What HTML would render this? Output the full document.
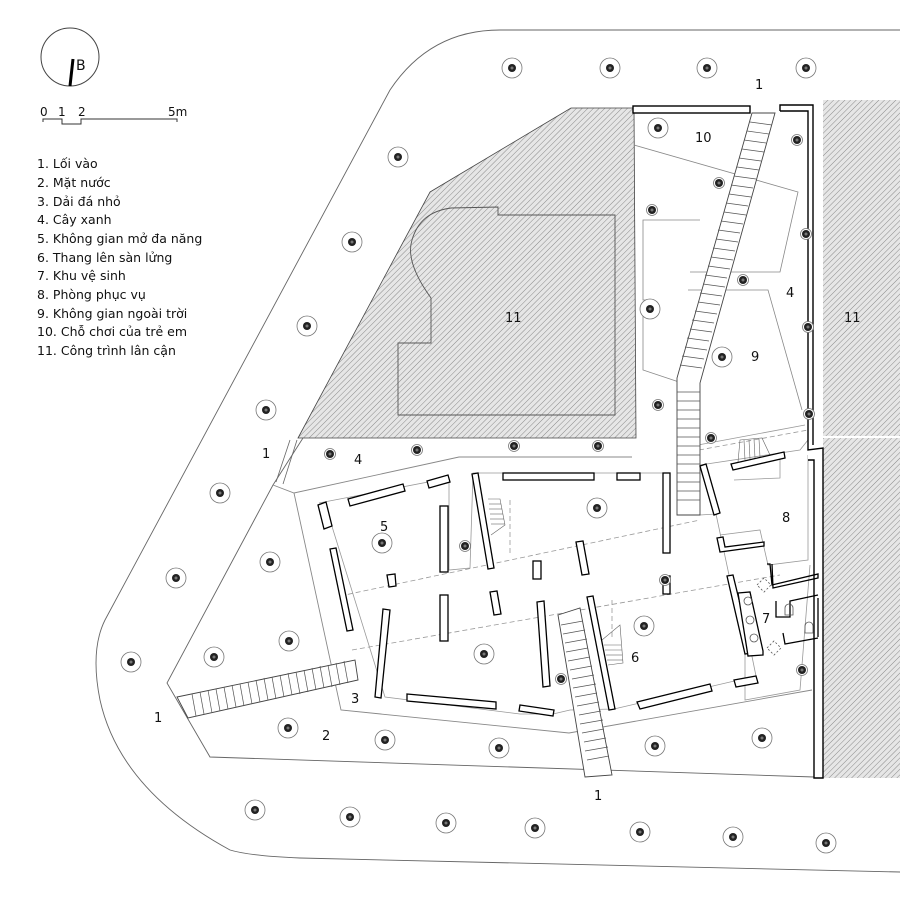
<!DOCTYPE html>
<html><head><meta charset="utf-8"><style>
html,body{margin:0;padding:0;background:#fff}
svg{display:block}
text{font-family:"DejaVu Sans","Liberation Sans",sans-serif;fill:#111}
</style></head><body>
<svg width="900" height="900" viewBox="0 0 900 900" xmlns="http://www.w3.org/2000/svg">
<defs>
<pattern id="h" width="4" height="4" patternUnits="userSpaceOnUse" patternTransform="rotate(45)">
<rect width="4" height="4" fill="#e6e6e6"/><line x1="0" y1="0" x2="0" y2="4" stroke="#8a8a8a" stroke-width="1"/>
</pattern>
<g id="t"><circle r="10" fill="#fff" stroke="#777" stroke-width="0.8"/><circle r="4" fill="#222"/><circle r="1.5" fill="#777"/></g>
<g id="d"><circle r="5.5" fill="#fff" stroke="#777" stroke-width="0.8"/><circle r="4" fill="#222"/><circle r="1.5" fill="#777"/></g>
</defs>

<circle cx="70" cy="57" r="29" fill="none" stroke="#444" stroke-width="1"/>
<line x1="73" y1="59" x2="70" y2="86" stroke="#000" stroke-width="3"/>
<text x="76" y="70" font-size="14">B</text>
<text x="40" y="116" font-size="12">0</text><text x="58" y="116" font-size="12">1</text><text x="78" y="116" font-size="12">2</text><text x="168" y="116" font-size="12">5m</text>
<polyline points="43,122 43,119 62,119 62,124 81,124 81,119 177,119 177,122" fill="none" stroke="#333" stroke-width="1"/>
<g font-size="12.5">
<text x="37" y="168">1. Lối vào</text>
<text x="37" y="187">2. Mặt nước</text>
<text x="37" y="206">3. Dải đá nhỏ</text>
<text x="37" y="224">4. Cây xanh</text>
<text x="37" y="243">5. Không gian mở đa năng</text>
<text x="37" y="262">6. Thang lên sàn lửng</text>
<text x="37" y="280">7. Khu vệ sinh</text>
<text x="37" y="299">8. Phòng phục vụ</text>
<text x="37" y="318">9. Không gian ngoài trời</text>
<text x="37" y="336">10. Chỗ chơi của trẻ em</text>
<text x="37" y="355">11. Công trình lân cận</text>
</g>

<path d="M900,30 L500,30 Q430,30 390,90 L105,620 Q90,650 100,700 Q120,790 230,850 Q250,856 300,858 L900,872" fill="none" stroke="#666" stroke-width="0.9"/>

<polygon points="430,192 571,108 634,108 636,438 298,438" fill="url(#h)" stroke="#444" stroke-width="0.8"/>
<path d="M451,208 L498,207 L498,215 L615,215 L615,415 L398,415 L398,343 L431,343 L431,298 Q405,262 412,240 Q420,212 451,208 Z" fill="none" stroke="#555" stroke-width="0.9"/>
<rect x="823" y="100" width="77" height="678" fill="url(#h)"/>
<line x1="823" y1="437" x2="900" y2="437" stroke="#fff" stroke-width="2"/>

<polyline points="303,438 273,485 167,683 210,757 814,777" fill="none" stroke="#666" stroke-width="0.9"/>
<line x1="290" y1="440" x2="276" y2="482" stroke="#666" stroke-width="0.8"/>
<line x1="297" y1="440" x2="283" y2="484" stroke="#666" stroke-width="0.8"/>
<polyline points="273,485 294,493 459,457 632,457" fill="none" stroke="#888" stroke-width="0.9"/>
<polyline points="294,493 341,710 569,733 812,690" fill="none" stroke="#888" stroke-width="0.9"/>
<polyline points="319,503 449,478 449,570 470,568 473,473 663,473" fill="none" stroke="#999" stroke-width="0.8"/>
<polyline points="330,520 385,697 520,714 553,714 570,710 614,709 756,676 740,598" fill="none" stroke="#999" stroke-width="0.8"/>
<polyline points="700,465 800,450 808,440" fill="none" stroke="#999" stroke-width="0.8"/>
<polyline points="698,445 805,425" fill="none" stroke="#999" stroke-width="0.8"/>
<polyline points="734,480 780,478 780,455" fill="none" stroke="#999" stroke-width="0.8"/>
<polyline points="720,535 760,530 768,565 808,560 808,455" fill="none" stroke="#999" stroke-width="0.8"/>
<polyline points="700,515 716,514 745,650 745,700 800,690 810,565" fill="none" stroke="#999" stroke-width="0.8"/>
<g stroke="#999" stroke-width="0.8" stroke-dasharray="5,3" fill="none">
<line x1="340" y1="596" x2="700" y2="520"/><line x1="352" y1="650" x2="780" y2="575"/>
<line x1="699" y1="450" x2="808" y2="430"/>
<line x1="510" y1="500" x2="510" y2="555"/><line x1="612" y1="600" x2="612" y2="640"/>
</g>

<polyline points="634,145 798,192 780,272 690,272" fill="none" stroke="#888" stroke-width="0.8"/>
<polyline points="700,220 643,220 643,300 650,300 643,305 643,370 688,385" fill="none" stroke="#888" stroke-width="0.8"/>
<polyline points="688,290 768,290 802,410" fill="none" stroke="#888" stroke-width="0.8"/>

<rect x="633" y="106" width="117" height="7" fill="#fff" stroke="#000" stroke-width="1.4"/>
<polyline points="780,111 780,105 813,105 813,445" fill="none" stroke="#000" stroke-width="1.4"/>
<polyline points="780,111 808,111 808,442" fill="none" stroke="#000" stroke-width="1.4"/>
<polyline points="808,442 808,450 823,448 823,778 814,778 814,460 808,460" fill="#fff" stroke="#000" stroke-width="1.4"/>

<polygon points="752,113 775,113 700,383 700,515 677,515 677,378" stroke="#444" stroke-width="0.9" fill="#fff"/>
<g stroke="#555" stroke-width="0.7">
<line x1="750" y1="122" x2="772" y2="125"/><line x1="747" y1="131" x2="769" y2="134"/><line x1="744" y1="140" x2="766" y2="143"/><line x1="742" y1="149" x2="764" y2="152"/><line x1="739" y1="158" x2="761" y2="161"/><line x1="737" y1="167" x2="759" y2="170"/><line x1="734" y1="176" x2="756" y2="179"/><line x1="731" y1="185" x2="753" y2="188"/><line x1="729" y1="194" x2="751" y2="197"/><line x1="726" y1="203" x2="748" y2="206"/><line x1="724" y1="212" x2="746" y2="215"/><line x1="721" y1="221" x2="743" y2="224"/><line x1="718" y1="230" x2="740" y2="233"/><line x1="716" y1="239" x2="738" y2="242"/><line x1="713" y1="248" x2="735" y2="251"/><line x1="711" y1="257" x2="733" y2="260"/><line x1="708" y1="266" x2="730" y2="269"/><line x1="705" y1="275" x2="727" y2="278"/><line x1="703" y1="284" x2="725" y2="287"/><line x1="700" y1="293" x2="722" y2="296"/><line x1="698" y1="302" x2="720" y2="305"/><line x1="695" y1="311" x2="717" y2="314"/><line x1="692" y1="320" x2="714" y2="323"/><line x1="690" y1="329" x2="712" y2="332"/><line x1="687" y1="338" x2="709" y2="341"/><line x1="685" y1="347" x2="707" y2="350"/><line x1="682" y1="356" x2="704" y2="359"/><line x1="680" y1="365" x2="702" y2="368"/>
<line x1="677" y1="392" x2="700" y2="392"/><line x1="677" y1="401" x2="700" y2="401"/><line x1="677" y1="410" x2="700" y2="410"/><line x1="677" y1="419" x2="700" y2="419"/><line x1="677" y1="428" x2="700" y2="428"/><line x1="677" y1="437" x2="700" y2="437"/><line x1="677" y1="446" x2="700" y2="446"/><line x1="677" y1="455" x2="700" y2="455"/><line x1="677" y1="464" x2="700" y2="464"/><line x1="677" y1="473" x2="700" y2="473"/><line x1="677" y1="482" x2="700" y2="482"/><line x1="677" y1="491" x2="700" y2="491"/><line x1="677" y1="500" x2="700" y2="500"/>
</g>
<polygon points="558,615 580,608 612,775 585,777" fill="#fff" stroke="#444" stroke-width="0.9"/>
<g stroke="#555" stroke-width="0.7">
<line x1="561" y1="625" x2="583" y2="621"/><line x1="563" y1="634" x2="585" y2="630"/><line x1="565" y1="643" x2="587" y2="639"/><line x1="566" y1="652" x2="588" y2="648"/><line x1="568" y1="661" x2="590" y2="657"/><line x1="570" y1="670" x2="592" y2="666"/><line x1="572" y1="679" x2="594" y2="675"/><line x1="573" y1="688" x2="596" y2="684"/><line x1="575" y1="697" x2="597" y2="693"/><line x1="577" y1="706" x2="599" y2="702"/><line x1="579" y1="715" x2="601" y2="711"/><line x1="580" y1="724" x2="603" y2="720"/><line x1="582" y1="733" x2="604" y2="729"/><line x1="584" y1="742" x2="606" y2="738"/><line x1="585" y1="751" x2="608" y2="747"/><line x1="587" y1="760" x2="609" y2="756"/>
</g>
<polygon points="177,697 355,660 358,680 188,718" fill="#fff" stroke="#444" stroke-width="0.9"/>
<g stroke="#555" stroke-width="0.7">
<line x1="192" y1="694" x2="196" y2="716"/><line x1="200" y1="692" x2="204" y2="714"/><line x1="208" y1="690" x2="212" y2="713"/><line x1="216" y1="689" x2="220" y2="711"/><line x1="224" y1="687" x2="228" y2="709"/><line x1="232" y1="685" x2="236" y2="707"/><line x1="240" y1="684" x2="244" y2="706"/><line x1="248" y1="682" x2="252" y2="704"/><line x1="256" y1="680" x2="260" y2="702"/><line x1="264" y1="678" x2="268" y2="700"/><line x1="272" y1="677" x2="276" y2="699"/><line x1="280" y1="675" x2="284" y2="697"/><line x1="288" y1="673" x2="292" y2="695"/><line x1="296" y1="672" x2="300" y2="694"/><line x1="304" y1="670" x2="308" y2="692"/><line x1="312" y1="668" x2="316" y2="690"/><line x1="320" y1="666" x2="324" y2="688"/><line x1="328" y1="665" x2="332" y2="687"/><line x1="336" y1="663" x2="340" y2="685"/><line x1="344" y1="661" x2="348" y2="683"/>
</g>
<g stroke="#666" stroke-width="0.6" fill="none">
<polyline points="488,499 500,499 505,525 491,535"/><line x1="489" y1="504" x2="501" y2="504"/><line x1="489" y1="509" x2="502" y2="509"/><line x1="490" y1="514" x2="503" y2="514"/><line x1="490" y1="519" x2="504" y2="519"/><line x1="491" y1="524" x2="505" y2="524"/>
<polyline points="602,640 620,625 623,663 608,665"/><line x1="604" y1="645" x2="621" y2="645"/><line x1="605" y1="650" x2="622" y2="650"/><line x1="606" y1="655" x2="622" y2="655"/><line x1="607" y1="660" x2="623" y2="660"/>
<polyline points="738,462 740,440 762,438 770,455"/><line x1="744" y1="440" x2="745" y2="460"/><line x1="749" y1="440" x2="750" y2="459"/><line x1="754" y1="439" x2="755" y2="458"/><line x1="759" y1="439" x2="760" y2="457"/>
</g>

<g fill="#fff" stroke="#000" stroke-width="1.3">
<polygon points="318,505 326,502 332,526 324,529"/>
<polygon points="348,499 403,484 405,491 350,506"/>
<polygon points="427,481 448,475 450,482 429,488"/>
<rect x="440" y="506" width="8" height="66"/>
<polygon points="472,474 478,473 494,568 488,569"/>
<rect x="503" y="473" width="91" height="7"/>
<rect x="617" y="473" width="23" height="7"/>
<rect x="663" y="473" width="7" height="80"/>
<polygon points="330,549 336,548 353,630 347,631"/>
<polygon points="387,575 395,574 396,586 389,587"/>
<rect x="440" y="595" width="8" height="46"/>
<polygon points="490,592 497,591 501,614 494,615"/>
<rect x="533" y="561" width="8" height="18"/>
<polygon points="576,542 583,541 589,574 582,575"/>
<rect x="663" y="576" width="7" height="18"/>
<polygon points="383,609 390,610 381,698 375,697"/>
<polygon points="407,694 496,702 496,709 407,701"/>
<polygon points="520,705 554,710 553,716 519,711"/>
<polygon points="537,602 544,601 550,686 543,687"/>
<polygon points="587,597 593,596 615,709 609,710"/>
<polygon points="637,702 710,684 712,691 640,709"/>
<polygon points="734,680 756,676 758,683 736,687"/>
<polygon points="700,466 706,464 720,513 714,515"/>
<polygon points="731,464 784,452 785,458 733,470"/>
<polygon points="717,538 723,537 725,547 764,542 764,546 720,552"/>
<polygon points="727,576 733,575 752,653 745,654"/>
<polygon points="738,593 750,592 763,651 763,655 748,656"/>
</g>
<g fill="none" stroke="#000" stroke-width="1.3">
<polyline points="767,564 770,564 772,585 818,574 818,578 773,588 772,564"/>
<polyline points="776,601 776,617 790,617 790,601 818,595"/>
<polyline points="783,633 785,644 818,638"/>
<polyline points="818,598 818,637"/>
</g>
<g fill="none" stroke="#555" stroke-width="0.8">
<circle cx="748" cy="601" r="4"/><circle cx="750" cy="620" r="4"/><circle cx="754" cy="638" r="4"/>
<path d="M785,615 v-7 a4,4 0 0 1 8,0 v7z"/><path d="M805,633 v-7 a4,4 0 0 1 8,0 v7z"/>
<polygon points="757,585 764,578 771,585 764,592" stroke-dasharray="2,2"/><polygon points="767,648 774,641 781,648 774,655" stroke-dasharray="2,2"/>
</g>

<g>
<use href="#t" x="512" y="68"/><use href="#t" x="610" y="68"/><use href="#t" x="707" y="68"/><use href="#t" x="806" y="68"/>
<use href="#t" x="398" y="157"/><use href="#t" x="352" y="242"/><use href="#t" x="307" y="326"/><use href="#t" x="266" y="410"/>
<use href="#t" x="220" y="493"/><use href="#t" x="176" y="578"/><use href="#t" x="131" y="662"/>
<use href="#t" x="270" y="562"/><use href="#t" x="289" y="641"/><use href="#t" x="214" y="657"/>
<use href="#t" x="288" y="728"/><use href="#t" x="385" y="740"/><use href="#t" x="499" y="748"/>
<use href="#t" x="655" y="746"/><use href="#t" x="762" y="738"/>
<use href="#t" x="255" y="810"/><use href="#t" x="350" y="817"/><use href="#t" x="446" y="823"/><use href="#t" x="535" y="828"/><use href="#t" x="640" y="832"/><use href="#t" x="733" y="837"/><use href="#t" x="826" y="843"/>
<use href="#t" x="658" y="128"/><use href="#t" x="722" y="357"/><use href="#t" x="650" y="309"/>
<use href="#t" x="382" y="543"/><use href="#t" x="597" y="508"/><use href="#t" x="484" y="654"/><use href="#t" x="644" y="626"/>
</g>
<g>
<use href="#d" x="797" y="140"/><use href="#d" x="719" y="183"/><use href="#d" x="652" y="210"/><use href="#d" x="806" y="234"/><use href="#d" x="743" y="280"/><use href="#d" x="808" y="327"/><use href="#d" x="658" y="405"/><use href="#d" x="809" y="414"/><use href="#d" x="711" y="438"/>
<use href="#d" x="330" y="454"/><use href="#d" x="417" y="450"/><use href="#d" x="514" y="446"/><use href="#d" x="598" y="446"/>
<use href="#d" x="465" y="546"/><use href="#d" x="665" y="580"/><use href="#d" x="561" y="679"/><use href="#d" x="802" y="670"/>
</g>

<g font-size="13">
<text x="755" y="89">1</text><text x="695" y="142">10</text>
<text x="505" y="322">11</text><text x="844" y="322">11</text>
<text x="786" y="297">4</text><text x="751" y="361">9</text>
<text x="262" y="458">1</text><text x="354" y="464">4</text>
<text x="380" y="531">5</text><text x="782" y="522">8</text>
<text x="762" y="623">7</text><text x="631" y="662">6</text>
<text x="351" y="703">3</text><text x="154" y="722">1</text>
<text x="322" y="740">2</text><text x="594" y="800">1</text>
</g>
</svg>
</body></html>
